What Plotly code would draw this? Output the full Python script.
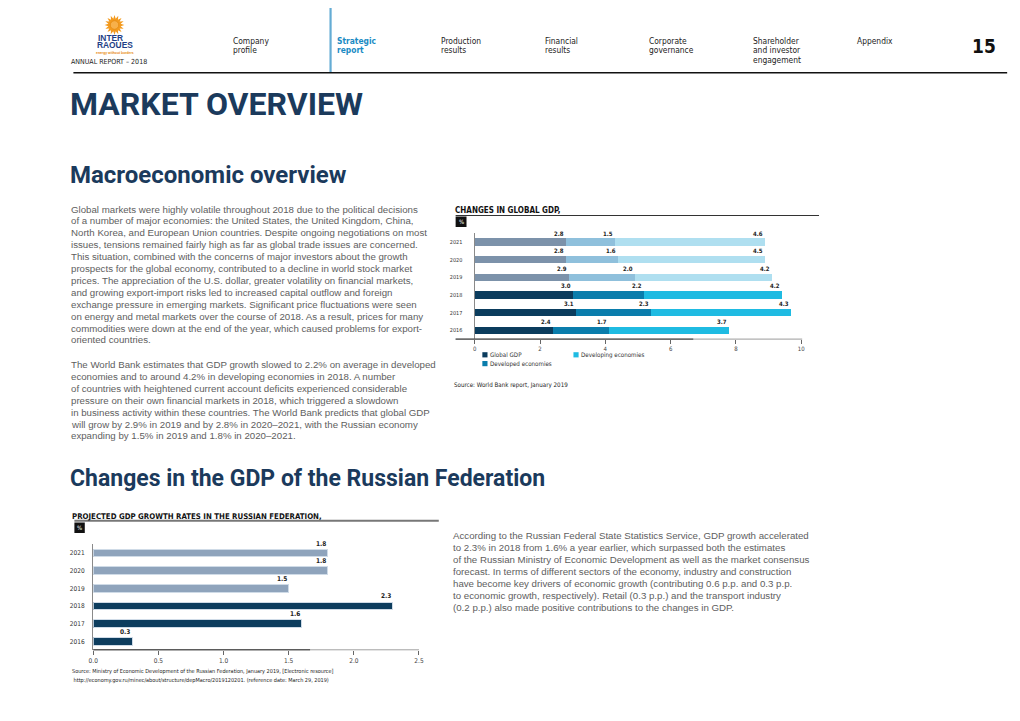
import numpy as np
import plotly.graph_objects as go

# ---------------- data ----------------
years = ['2016', '2017', '2018', '2019', '2020', '2021']
forecast_years = ['2019', '2020', '2021']
global_gdp = [2.4, 3.1, 3.0, 2.9, 2.8, 2.8]
developed = [1.7, 2.3, 2.2, 2.0, 1.6, 1.5]
developing = [3.7, 4.3, 4.2, 4.2, 4.5, 4.6]
series_names = ['Global GDP', 'Developed economies', 'Developing economies']
top_ticks = [0, 2, 4, 6, 8, 10]

russia_gdp = [0.3, 1.6, 2.3, 1.5, 1.8, 1.8]
bottom_ticks = [0.0, 0.5, 1.0, 1.5, 2.0, 2.5]
bottom_ticktext = ['0.0', '0.5', '1.0', '1.5', '2.0', '2.5']

nav_items = [['Company', 'profile'], ['Strategic', 'report'], ['Production', 'results'],
             ['Financial', 'results'], ['Corporate', 'governance'],
             ['Shareholder', 'and investor', 'engagement'], ['Appendix']]

para1 = [
    "Global markets were highly volatile throughout 2018 due to the political decisions",
    "of a number of major economies: the United States, the United Kingdom, China,",
    "North Korea, and European Union countries. Despite ongoing negotiations on most",
    "issues, tensions remained fairly high as far as global trade issues are concerned.",
    "This situation, combined with the concerns of major investors about the growth",
    "prospects for the global economy, contributed to a decline in world stock market",
    "prices. The appreciation of the U.S. dollar, greater volatility on financial markets,",
    "and growing export-import risks led to increased capital outflow and foreign",
    "exchange pressure in emerging markets. Significant price fluctuations were seen",
    "on energy and metal markets over the course of 2018. As a result, prices for many",
    "commodities were down at the end of the year, which caused problems for export-",
    "oriented countries.",
]
para2 = [
    "The World Bank estimates that GDP growth slowed to 2.2% on average in developed",
    "economies and to around 4.2% in developing economies in 2018. A number",
    "of countries with heightened current account deficits experienced considerable",
    "pressure on their own financial markets in 2018, which triggered a slowdown",
    "in business activity within these countries. The World Bank predicts that global GDP",
    "will grow by 2.9% in 2019 and by 2.8% in 2020\u20132021, with the Russian economy",
    "expanding by 1.5% in 2019 and 1.8% in 2020\u20132021.",
]
para3 = [
    "According to the Russian Federal State Statistics Service, GDP growth accelerated",
    "to 2.3% in 2018 from 1.6% a year earlier, which surpassed both the estimates",
    "of the Russian Ministry of Economic Development as well as the market consensus",
    "forecast. In terms of different sectors of the economy, industry and construction",
    "have become key drivers of economic growth (contributing 0.6 p.p. and 0.3 p.p.",
    "to economic growth, respectively). Retail (0.3 p.p.) and the transport industry",
    "(0.2 p.p.) also made positive contributions to the changes in GDP.",
]

# ---------------- helpers ----------------
W, H = 1020, 721
OFF = 8  # page body margin compensation
def X(p): return (p - OFF) / W
def Y(p): return 1 - (p - OFF) / H

COND = "DejaVu Sans Condensed, Liberation Sans Narrow, Arial Narrow, sans-serif"
HEAD = "Roboto, DejaVu Sans Condensed, sans-serif"
BODY = "Liberation Sans, Arial, sans-serif"
NAVY = '#1b3a5c'

anns = []
shapes = []

def T(x, y, text, size, color='#222', family=COND, xanchor='left', bold=False):
    anns.append(dict(x=X(x), y=Y(y), xref='paper', yref='paper',
                     text=f'<b>{text}</b>' if bold else text, showarrow=False,
                     xanchor=xanchor, yanchor='middle', align='left',
                     font=dict(size=size, color=color, family=family)))

def L(x0, y0, x1, y1, color, width):
    shapes.append(dict(type='line', xref='paper', yref='paper', x0=X(x0), y0=Y(y0),
                       x1=X(x1), y1=Y(y1), line=dict(color=color, width=width)))

def R(x0, y0, x1, y1, color):
    shapes.append(dict(type='rect', xref='paper', yref='paper', x0=X(x0), y0=Y(y0),
                       x1=X(x1), y1=Y(y1), line=dict(width=0), fillcolor=color))

fig = go.Figure()

# ---------------- top chart ----------------
fc = [y in forecast_years for y in years]
pal_actual = ['#0b3c5d', '#0a7dac', '#1fbbe2']
pal_fc = ['#7c92aa', '#8fc0dc', '#afdff0']
for k, vals in enumerate([global_gdp, developed, developing]):
    cols = [pal_fc[k] if f else pal_actual[k] for f in fc]
    fig.add_trace(go.Bar(y=years, x=vals, orientation='h', name=series_names[k],
                         marker=dict(color=cols, line=dict(width=0)), width=0.42,
                         xaxis='x', yaxis='y', showlegend=False, hoverinfo='skip'))
for i, yr in enumerate(years):
    cum = 0.0
    for vals in (global_gdp, developed, developing):
        cum += vals[i]
        anns.append(dict(x=cum, y=i, xref='x', yref='y', text=f'<b>{vals[i]:.1f}</b>',
                         showarrow=False, xanchor='right', yanchor='middle', yshift=9,
                         font=dict(size=6, color='#222', family=COND)))

# ---------------- bottom chart ----------------
rcols = ['#8fa4bc' if f else '#0d3d5e' for f in fc]
fig.add_trace(go.Bar(y=years, x=russia_gdp, orientation='h',
                     marker=dict(color=rcols, line=dict(width=1, color='#cfdbe7')), width=0.44,
                     xaxis='x2', yaxis='y2', showlegend=False, hoverinfo='skip'))
for i, yr in enumerate(years):
    anns.append(dict(x=russia_gdp[i], y=i, xref='x2', yref='y2', text=f'<b>{russia_gdp[i]:.1f}</b>',
                     showarrow=False, xanchor='right', yanchor='middle', yshift=9.5,
                     font=dict(size=6.5, color='#222', family=COND)))

# ---------------- header ----------------
cx, cy = 110.5, 25
n = 16
pts = []
for j in range(2 * n):
    a = np.pi * j / n
    r = 10 if j % 2 == 0 else 6.3
    pts.append((X(cx + r * np.cos(a)), Y(cy + r * np.sin(a))))
path = 'M ' + ' L '.join(f'{px:.5f},{py:.5f}' for px, py in pts) + ' Z'
shapes.append(dict(type='path', xref='paper', yref='paper', path=path,
                   fillcolor='#f39a1e', line=dict(width=0)))
shapes.append(dict(type='circle', xref='paper', yref='paper', x0=X(cx - 4.3), x1=X(cx + 4.3),
                   y0=Y(cy + 4.3), y1=Y(cy - 4.3), fillcolor='#f7b04a',
                   line=dict(color='#e58a10', width=0.8)))
T(106.5, 38.4, 'INTER', 8.4, '#1f3f86', "Liberation Sans, Arial", 'center', True)
T(110.8, 45.4, 'RAOUES', 8.4, '#1f3f86', "Liberation Sans, Arial", 'center', True)
T(111.5, 52.6, 'energy without borders', 3.4, '#e8890c', BODY, 'center', True)
T(65, 62.5, 'ANNUAL REPORT \u2013 2018', 7, '#222')

nav_x = [228, 333, 438, 543, 648, 753, 858]
for k, item in enumerate(nav_items):
    for j, line in enumerate(item):
        if k == 1:
            T(nav_x[k], 40.7 + 9.5 * j, line, 8.4, '#1a8bc4', COND, bold=True)
        else:
            T(nav_x[k], 40.7 + 9.5 * j, line, 8.4, '#222', COND)
T(1003, 46, '15', 19, '#111', COND, 'right', True)
L(328.7, 0, 328.7, 72.5, '#64acd4', 2.2)
L(69, 72.7, 1012, 72.7, '#111', 1.5)

# ---------------- headings & text ----------------
T(64, 104, 'MARKET OVERVIEW', 32, NAVY, HEAD, bold=True)
T(64, 174.5, 'Macroeconomic overview', 24, NAVY, HEAD, bold=True)
T(64, 478.5, 'Changes in the GDP of the Russian Federation', 23, NAVY, HEAD, bold=True)

for j, line in enumerate(para1):
    T(65, 209 + 11.9 * j, line, 9.7, '#5e5e5e', BODY)
for j, line in enumerate(para2):
    T(65, 364 + 12 * j, line, 9.7, '#5e5e5e', BODY)
for j, line in enumerate(para3):
    T(450, 535 + 12 * j, line, 9.7, '#5e5e5e', BODY)

# top chart furniture
T(452, 210, 'CHANGES IN GLOBAL GDP,', 8, '#111', COND, bold=True)
L(455, 215.5, 822, 215.5, '#333', 1.2)
R(455, 216.5, 466, 227, '#111')
T(460.5, 221.5, '%', 6, '#fff', COND, 'center')
L(455, 339.1, 805, 339.1, '#9a9a9a', 1)
L(455, 339.1, 695, 339.1, '#333', 1)
leg = [(482, 354.8, 0), (482, 363.6, 1), (574, 354.8, 2)]
for lx, ly, k in leg:
    R(lx, ly - 2.6, lx + 5.2, ly + 2.6, pal_actual[k])
    T(lx + 6, ly, series_names[k], 6.2, '#333', COND)
T(451, 385, 'Source: World Bank report, January 2019', 6.2, '#222', COND)

# bottom chart furniture
T(66, 516, 'PROJECTED GDP GROWTH RATES IN THE RUSSIAN FEDERATION,', 7.8, '#111', COND, bold=True)
L(70, 520.7, 438, 520.7, '#777', 2)
R(70, 522.5, 80.5, 533, '#111')
T(75.3, 527.7, '%', 6, '#fff', COND, 'center')
L(89, 649.8, 418, 649.8, '#a0a0a0', 1)
L(89, 649.8, 308, 649.8, '#333', 1)
T(66, 671, 'Source: Ministry of Economic Development of the Russian Federation, January 2019, [Electronic resource]', 5.5, '#222', COND)
T(66, 680.5, ' http://economy.gov.ru/minec/about/structure/depMacro/2019120201. (reference date: March 29, 2019)', 5.5, '#222', COND)

fig.update_layout(
    width=W, height=H, margin=dict(l=0, r=0, t=0, b=0),
    paper_bgcolor='white', plot_bgcolor='rgba(0,0,0,0)',
    barmode='stack', bargap=0.5, showlegend=False,
    annotations=anns, shapes=shapes,
    xaxis=dict(domain=[X(474.3), X(804)], range=[0, 10], tickvals=top_ticks,
               ticks='outside', ticklen=4, tickcolor='#666', tickwidth=1,
               tickfont=dict(size=6, color='#444', family=COND),
               showgrid=False, zeroline=False, showline=False, fixedrange=True),
    yaxis=dict(domain=[Y(339.1), Y(233.2)], type='category', categoryorder='array',
               categoryarray=years, range=[-0.5, 5.5], showline=True, linecolor='#8a8a8a',
               linewidth=1.4, ticks='', ticklabelstandoff=10, showgrid=False, zeroline=False,
               tickfont=dict(size=5.5, color='#333', family=COND), fixedrange=True),
    xaxis2=dict(domain=[X(89), X(418)], range=[0, 2.5], tickvals=bottom_ticks,
                ticktext=bottom_ticktext, anchor='y2',
                ticks='outside', ticklen=4, tickcolor='#666', tickwidth=1,
                tickfont=dict(size=6.5, color='#444', family=COND),
                showgrid=False, zeroline=False, showline=False, fixedrange=True),
    yaxis2=dict(domain=[Y(650.1), Y(544.2)], type='category', categoryorder='array',
                categoryarray=years, range=[-0.5, 5.5], anchor='x2', showline=True,
                linecolor='#8a8a8a', linewidth=1.4, ticks='', ticklabelstandoff=6,
                showgrid=False, zeroline=False,
                tickfont=dict(size=6.5, color='#333', family=COND), fixedrange=True),
)

fig.write_html("out.html")
